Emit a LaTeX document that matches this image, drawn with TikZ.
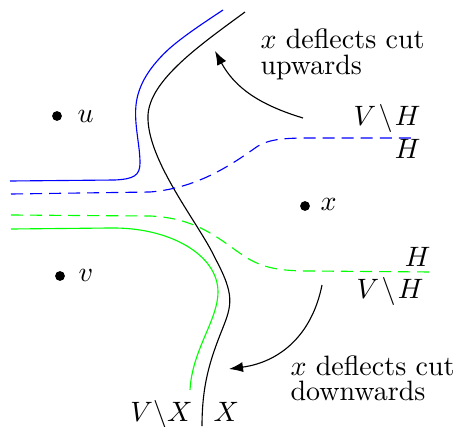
\documentclass[tikz,border=0pt]{standalone}
\usetikzlibrary{arrows.meta}
\begin{document}
\begin{tikzpicture}[x=0.357pt,y=-0.357pt,
  dot/.style={circle,fill=black,inner sep=0pt,minimum size=3.5pt},
  cutline/.style={line width=0.4pt},
  dashcut/.style={line width=0.4pt,dash pattern=on 4.3pt off 2.5pt},
  pointer/.style={line width=0.4pt,-{Latex[length=5pt,width=3.6pt]}},
  lbl/.style={inner sep=0pt},
  note/.style={inner sep=0pt,anchor=north west,align=left,font=\fontsize{10}{9}\selectfont}]
\useasboundingbox (0,0) rectangle (453,426);
% points
\node[dot] (u) at (57,116) {};
\node[lbl,anchor=west] (ul) at (77,116) {$u$};
\node[dot] (x) at (305,206) {};
\node[lbl,anchor=west] (xl) at (320,204) {$x$};
\node[dot] (v) at (60,276) {};
\node[lbl,anchor=west] (vl) at (78,275) {$v$};
% blue solid
\draw[cutline,blue] (10,181) -- (115,180) .. controls (133,179) and (140,176) .. (140,163)
  .. controls (140,145) and (134,125) .. (136,105)
  .. controls (138,85) and (150,66) .. (170,48)
  .. controls (185,35) and (205,22) .. (223,10);
% black
\draw[cutline] (245,12) .. controls (200,45) and (150,80) .. (148,115)
  .. controls (146,160) and (200,225) .. (215,258)
  .. controls (235,295) and (232,305) .. (222,330)
  .. controls (210,360) and (202,385) .. (202,426);
% green solid
\draw[cutline,green] (11,229) -- (110,228) .. controls (170,227) and (218,255) .. (218,292)
  .. controls (218,320) and (192,350) .. (190,390);
% blue dashed
\draw[dashcut,blue] (11,194) -- (150,192) .. controls (200,188) and (235,162) .. (258,146)
  .. controls (270,139) and (285,138) .. (310,138) -- (417,138);
% green dashed
\draw[dashcut,green] (11,215) -- (150,216) .. controls (200,218) and (222,242) .. (247,258)
  .. controls (264,268) and (280,271) .. (310,271) -- (432,272);
% labels
\node[lbl,anchor=base east] (vh1) at (421,126) {$V\mskip1.5mu\backslash\mskip1.5mu H$};
\node[lbl,anchor=base east] (h1) at (421,158) {$H$};
\node[lbl,anchor=base east] (h2) at (431,266) {$H$};
\node[lbl,anchor=base east] (vh2) at (424,298) {$V\mskip1.5mu\backslash\mskip1.5mu H$};
\node[lbl,anchor=base east] (vx) at (193,421) {$V\backslash X$};
\node[lbl,anchor=base west] (xx) at (213,421) {$X$};
% texts
\node[note] (t1) at (260,28.6) {$x$ deflects cut\\upwards};
\node[note] (t2) at (290,355) {$x$ deflects cut\\downwards};
% arrows
\coordinate (a1s) at (303,118);
\coordinate (a1e) at (215,51);
\coordinate (a2s) at (322,285);
\coordinate (a2e) at (229,369);
\draw[pointer] (a1s) .. controls (260,105) and (235,88) .. (a1e);
\draw[pointer] (a2s) .. controls (312,335) and (280,362) .. (a2e);
\end{tikzpicture}
\end{document}
